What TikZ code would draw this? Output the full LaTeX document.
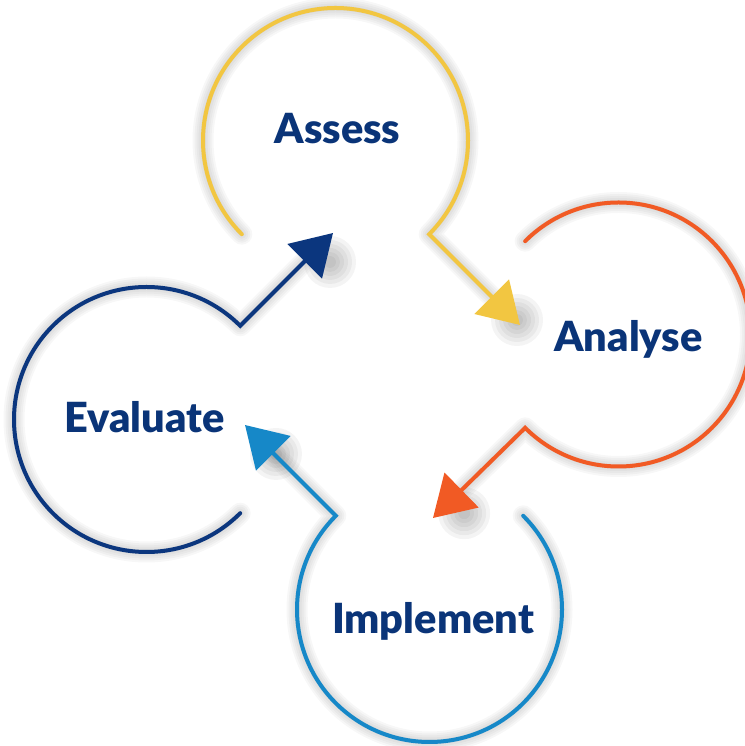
\documentclass[tikz,border=0pt]{standalone}
\usepackage{fontspec}
\setmainfont{Lato}[BoldFont={Lato Black}]
\usetikzlibrary{arrows.meta,calc}
\definecolor{cyellow}{HTML}{F2C641}
\definecolor{corange}{HTML}{F15A24}
\definecolor{cblue}{HTML}{1688C8}
\definecolor{cnavy}{HTML}{0B367E}
\definecolor{ctext}{HTML}{0A3478}
\begin{document}
\begin{tikzpicture}[x=1pt,y=1pt,
  ring/.style={line width=4pt, line cap=round, line join=miter},
  link/.style={-{Triangle[length=40pt,width=48pt]}},
  lbl/.style={font=\bfseries\fontsize{41.5}{41.5}\selectfont, text=ctext, anchor=base, inner sep=0pt},
  glow/.style={black, opacity=0.03, line cap=round, line join=round}
]
\useasboundingbox (0,0) rectangle (744,746);
% centres
\coordinate (cA) at (335.5,605.5);
\coordinate (cB) at (618.5,411.5);
\coordinate (cC) at (429.5,136.5);
\coordinate (cD) at (146.5,326.5);
% arrow tips
\coordinate (tA) at (520,421);
\coordinate (tB) at (433,228);
\coordinate (tC) at (245,321);
\coordinate (tD) at (333,513);
% corners
\coordinate (kA) at ($(cA)+(-45:132.5)$);
\coordinate (kB) at ($(cB)+(225:132)$);
\coordinate (kC) at ($(cC)+(135:132.5)$);
\coordinate (kD) at ($(cD)+(45:132.5)$);
% shadows
\foreach \w in {5,9,13,17,21}{
  \draw[glow, line width=\w pt, shift={(3,-5)}] ($(cA)+(225:132.5)$) arc[start angle=225, end angle=-45, radius=132.5] -- ($(tA)!40pt!(kA)$);
  \draw[glow, line width=\w pt, shift={(3,-5)}] ($(cB)+(135:132)$) arc[start angle=135, end angle=-135, radius=132] -- ($(tB)!40pt!(kB)$);
  \draw[glow, line width=\w pt, shift={(3,-5)}] ($(cC)+(45:132.5)$) arc[start angle=45, end angle=-225, radius=132.5] -- ($(tC)!40pt!(kC)$);
  \draw[glow, line width=\w pt, shift={(3,-5)}] ($(cD)+(-45:132.5)$) arc[start angle=-45, end angle=-315, radius=132.5] -- ($(tD)!40pt!(kD)$);
}
\foreach \t/\k in {tA/kA,tB/kB,tC/kC,tD/kD}{
  \foreach \r in {6,10,14,18,22,26}{
    \fill[black, opacity=0.045] ($(\t)!24pt!(\k)+(14,-12)$) circle (\r);
  }
}
% rings with links
\draw[ring, cyellow, link] ($(cA)+(225:132.5)$) arc[start angle=225, end angle=-45, radius=132.5] -- (tA);
\draw[ring, corange, link] ($(cB)+(135:132)$) arc[start angle=135, end angle=-135, radius=132] -- (tB);
\draw[ring, cblue, link] ($(cC)+(45:132.5)$) arc[start angle=45, end angle=-225, radius=132.5] -- (tC);
\draw[ring, cnavy, link] ($(cD)+(-45:132.5)$) arc[start angle=-45, end angle=-315, radius=132.5] -- (tD);
% labels
\node[lbl] (assess) at (337.5,602) {Assess};
\node[lbl] (analyse) at (628.5,394) {Analyse};
\node[lbl] (implement) at (433,112) {Implement};
\node[lbl] (evaluate) at (144.5,313) {Evaluate};
\end{tikzpicture}
\end{document}
